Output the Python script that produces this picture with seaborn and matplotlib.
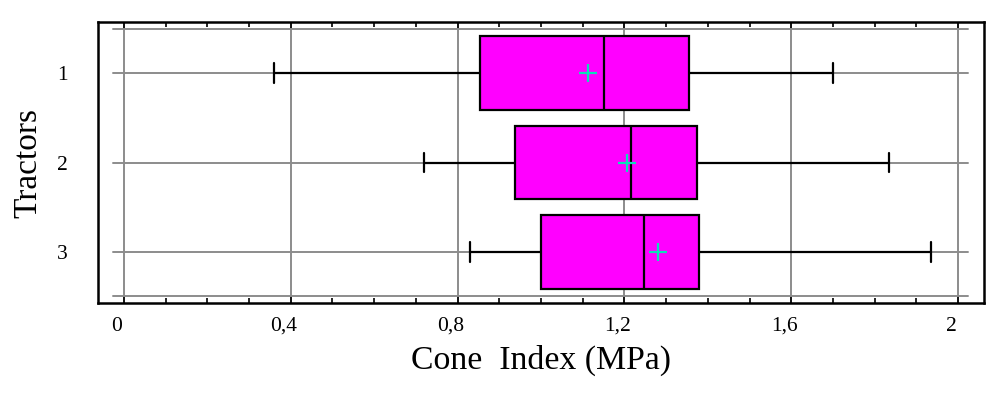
import numpy as np
import pandas as pd
import matplotlib
matplotlib.use("Agg")
import matplotlib.pyplot as plt
from matplotlib.ticker import MultipleLocator
from matplotlib.transforms import ScaledTranslation
import seaborn as sns

# ---- data ----
tractors = ["1", "2", "3"]
whisker_low = [0.360, 0.720, 0.830]
q1 = [0.854, 0.938, 1.000]
median = [1.151, 1.216, 1.247]
q3 = [1.355, 1.374, 1.379]
whisker_high = [1.700, 1.835, 1.935]
means = [1.113, 1.206, 1.281]
x_ticks = [0, 0.4, 0.8, 1.2, 1.6, 2.0]
x_tick_labels = ["0", "0,4", "0,8", "1,2", "1,6", "2"]

rows = []
for t, lo, a, m, b, hi in zip(tractors, whisker_low, q1, median, q3, whisker_high):
    for v in (lo, a, m, b, hi):
        rows.append({"Tractor": t, "CI": v})
df = pd.DataFrame(rows)
mean_df = pd.DataFrame({"Tractor": tractors, "CI": means})

sns.set_theme(style="white")
plt.rcParams["font.family"] = ["Liberation Serif", "DejaVu Serif"]
plt.rcParams["text.color"] = "black"
plt.rcParams["axes.labelcolor"] = "black"
plt.rcParams["xtick.color"] = "black"
plt.rcParams["ytick.color"] = "black"

fig = plt.figure(figsize=(10, 3.96), dpi=100)
ax = fig.add_axes([0.098, 0.235, 0.886, 0.709])

sns.boxplot(data=df, x="CI", y="Tractor", order=tractors, orient="h",
            whis=(0, 100), width=0.82, color="#ff00ff", saturation=1,
            linecolor="black", linewidth=1.6, showfliers=False,
            capwidths=0.22, ax=ax, zorder=3)

sns.pointplot(data=mean_df, x="CI", y="Tractor", order=tractors, orient="h",
              linestyle="none", marker="+", color="#10dcb8", markersize=13,
              markeredgewidth=1.6, errorbar=None, ax=ax, zorder=5)

ax.set_xlim(-0.062, 2.062)
ax.set_ylim(2.57, -0.57)

# grid
ax.set_xticks(x_ticks)
ax.set_xticklabels(x_tick_labels)
ax.xaxis.set_minor_locator(MultipleLocator(0.1))
ax.grid(True, axis="x", which="major", color="#8c8c8c", lw=1.4, zorder=1)
ax.grid(False, axis="y")
for yv in [-0.49, 0, 1, 2, 2.49]:
    ax.axhline(yv, xmin=0.017, xmax=0.982, color="#8c8c8c", lw=1.4, zorder=1)

ax.tick_params(axis="x", which="both", direction="in", top=True, bottom=True,
               color="black", labelcolor="black", labelsize=15.5, pad=10)
ax.tick_params(axis="x", which="major", length=5, width=1.2)
ax.tick_params(axis="x", which="minor", length=3.5, width=1.2)
ax.tick_params(axis="y", length=0, labelsize=15.5, labelcolor="black", pad=22)

# reference draws x tick labels slightly left of their ticks
shift = ScaledTranslation(-7 / 100, 0, fig.dpi_scale_trans)
for lbl in ax.get_xticklabels():
    lbl.set_transform(lbl.get_transform() + shift)

for s in ax.spines.values():
    s.set_visible(True)
    s.set_color("black")
    s.set_linewidth(1.8)

ax.set_xlabel("Cone  Index (MPa)", fontsize=24.3, color="black")
ax.set_ylabel("Tractors", fontsize=24, color="black")
ax.xaxis.set_label_coords(0.5, -0.15)
ax.yaxis.set_label_coords(-0.062, 0.5)

fig.savefig("out.png", dpi=100)
